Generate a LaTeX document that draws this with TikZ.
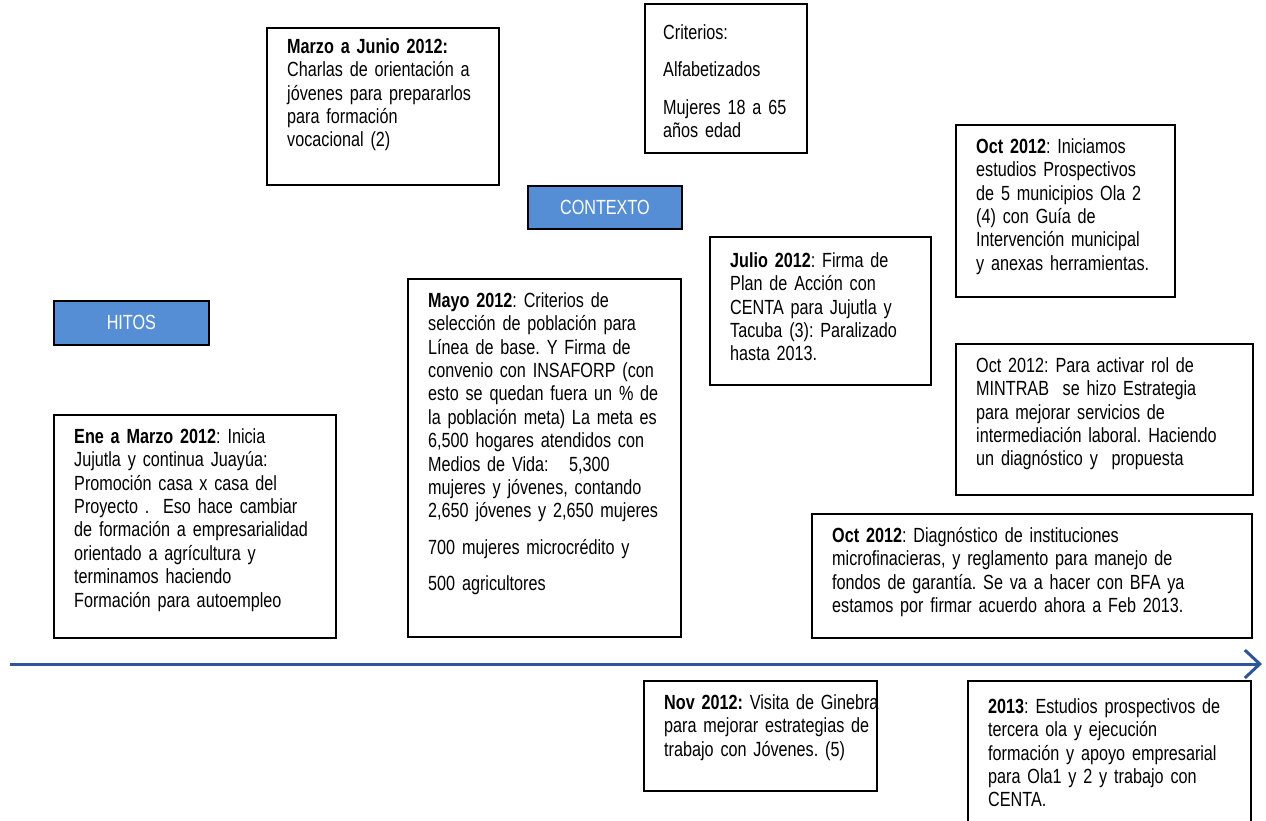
\documentclass[tikz,border=0pt]{standalone}
\usepackage{fontspec}
\setmainfont[FakeStretch=0.79]{Liberation Sans}
\usetikzlibrary{arrows.meta}
\definecolor{tagblue}{RGB}{85,142,213}
\definecolor{lineblue}{RGB}{47,85,151}
\frenchspacing
% body text: narrow sans with tight interword spaces
\newcommand\boxtextfont{\fontsize{20.5}{23.4}\selectfont\frenchspacing\spaceskip 4.5pt\relax}
\tikzset{
  box/.style={draw=black, line width=1.6pt, rectangle, anchor=north west, inner sep=0pt, fill=white},
  tag/.style={draw=black, line width=1.8pt, rectangle, anchor=north west, inner sep=0pt,
    fill=tagblue, text=white, font=\fontsize{20.5}{23.4}\selectfont},
  txt/.style={anchor=north west, inner sep=0pt, align=left, text width=#1,
    font=\boxtextfont},
  txt/.default=300pt,
  timeline/.style={draw=lineblue, line width=3pt,
    -{Straight Barb[length=15pt,width=28pt,line width=3pt]}}
}
\begin{document}
\begin{tikzpicture}[x=1pt,y=-1pt]
\useasboundingbox (0,0) rectangle (1266,821);
\clip (0,0) rectangle (1266,821);

% section tags
\node[tag, minimum width=155pt, minimum height=44pt] (hitos) at (53,300) {HITOS};
\node[tag, minimum width=154pt, minimum height=43pt] (contexto) at (527,185) {CONTEXTO};

% frames of the milestone boxes
\node[box, minimum width=232pt, minimum height=157pt] (marzo) at (266,27) {};
\node[box, minimum width=162pt, minimum height=149pt] (crit) at (644,3) {};
\node[box, minimum width=282pt, minimum height=223pt] (ene) at (53,414) {};
\node[box, minimum width=273pt, minimum height=358pt] (mayo) at (407,278) {};
\node[box, minimum width=221pt, minimum height=148pt] (julio) at (709,236) {};
\node[box, minimum width=219pt, minimum height=172pt] (octa) at (955,124) {};
\node[box, minimum width=297pt, minimum height=151pt] (octb) at (955,343) {};
\node[box, minimum width=440pt, minimum height=124pt] (octc) at (811,513) {};
\node[box, minimum width=233pt, minimum height=110pt] (nov) at (643,680) {};
\node[box, minimum width=283pt, minimum height=160pt] (y2013) at (967,680) {};

% texts of the milestone boxes
\node[txt] (marzo-t) at (287,36.8) {\strut\textbf{Marzo a Junio 2012:}\\
  Charlas de orientación a\\ jóvenes para prepararlos\\ para formación\\ vocacional (2)};
\node[txt] (crit-t) at (663,22.8) {\strut Criterios:\\[14pt] Alfabetizados\\[14pt]
  Mujeres 18 a 65\\ años edad};
\node[txt] (ene-t) at (74,426.8) {\strut\textbf{Ene a Marzo 2012}: Inicia\\
  Jujutla y continua Juayúa:\\ Promoción casa x casa del\\
  Proyecto .\ \ Eso hace cambiar\\ de formación a empresarialidad\\
  orientado a agrícultura y\\ terminamos haciendo\\ Formación para autoempleo};
\node[txt] (mayo-t) at (428,290.8) {\strut\textbf{Mayo 2012}: Criterios de\\
  selección de población para\\ Línea de base. Y Firma de\\
  convenio con INSAFORP (con\\ esto se quedan fuera un \% de\\
  la población meta) La meta es\\ 6,500 hogares atendidos con\\
  Medios de Vida:\ \ \ 5,300\\ mujeres y jóvenes, contando\\
  2,650 jóvenes y 2,650 mujeres\\[13pt] 700 mujeres microcrédito y\\[13pt]
  500 agricultores};
\node[txt] (julio-t) at (730,250.8) {\strut\textbf{Julio 2012}: Firma de\\
  Plan de Acción con\\ CENTA para Jujutla y\\ Tacuba (3): Paralizado\\ hasta 2013.};
\node[txt] (octa-t) at (976,136.8) {\strut\textbf{Oct 2012}: Iniciamos\\
  estudios Prospectivos\\ de 5 municipios Ola 2\\ (4) con Guía de\\
  Intervención municipal\\ y anexas herramientas.};
\node[txt] (octb-t) at (976,355.8) {\strut Oct 2012: Para activar rol de\\
  MINTRAB\ \ se hizo Estrategia\\ para mejorar servicios de\\
  intermediación laboral. Haciendo\\ un diagnóstico y\ \ propuesta};
\node[txt=420pt] (octc-t) at (832,525.8) {\strut\textbf{Oct 2012}: Diagnóstico de instituciones\\
  microfinacieras, y reglamento para manejo de\\
  fondos de garantía. Se va a hacer con BFA ya\\
  estamos por firmar acuerdo ahora a Feb 2013.};
\node[txt] (nov-t) at (664,692.8) {\strut\textbf{Nov 2012:} Visita de Ginebra\\
  para mejorar estrategias de\\ trabajo con Jóvenes. (5)};
\node[txt] (y2013-t) at (988,696.8) {\strut\textbf{2013}: Estudios prospectivos de\\
  tercera ola y ejecución\\ formación y apoyo empresarial\\
  para Ola1 y 2 y trabajo con\\ CENTA.};

% time axis
\coordinate (tl-start) at (10,664);
\coordinate (tl-end) at (1262,664);
\draw[timeline] (tl-start) -- (tl-end);
\end{tikzpicture}
\end{document}
